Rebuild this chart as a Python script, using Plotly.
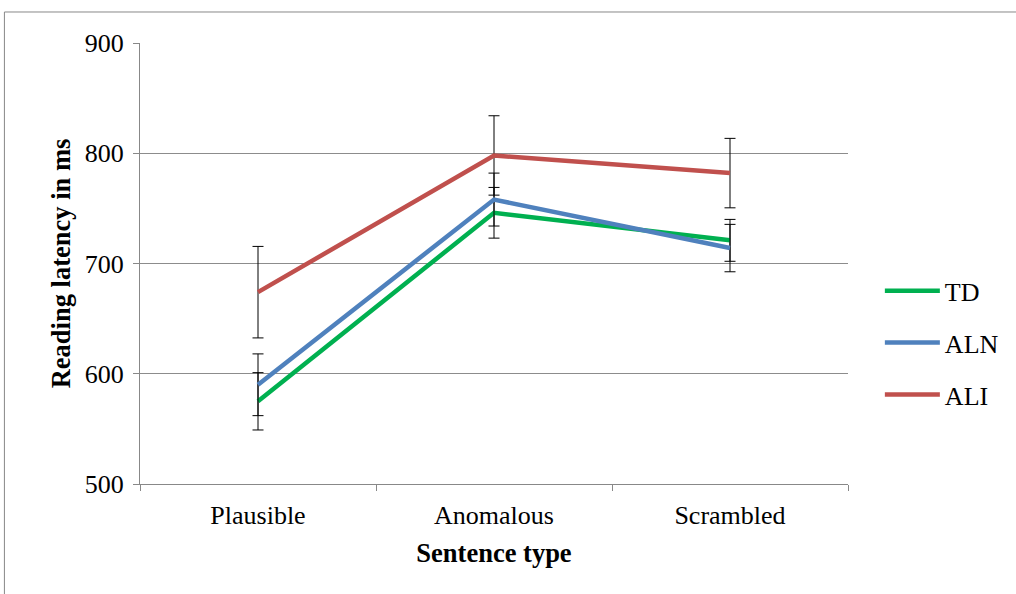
import plotly.graph_objects as go

categories = ["Plausible", "Anomalous", "Scrambled"]
series_names = ["TD", "ALN", "ALI"]
td_values = [575, 746, 721]
td_errors = [26, 23, 19]
aln_values = [590, 758, 714]
aln_errors = [28, 24, 21.5]
ali_values = [674, 798, 782]
ali_errors = [41.5, 36, 31.5]
y_ticks = [500, 600, 700, 800, 900]

colors = ["#00B050", "#4F81BD", "#C0504D"]
values = [td_values, aln_values, ali_values]
errors = [td_errors, aln_errors, ali_errors]

FONT = "Liberation Serif"

fig = go.Figure()
for name, vals, errs, col in zip(series_names, values, errors, colors):
    fig.add_trace(go.Scatter(
        x=categories, y=vals, name=name, mode="lines",
        line=dict(color=col, width=4.5),
        legendgroup=name,
        error_y=dict(type="data", array=errs, visible=True,
                     color="#000000", thickness=1, width=5.5),
    ))

fig.update_layout(
    width=1016, height=594,
    margin=dict(l=140, r=166, t=43, b=110),
    paper_bgcolor="white", plot_bgcolor="white",
    font=dict(family=FONT, size=26, color="black"),
    showlegend=True,
    legend=dict(x=1.045, y=0.32, xanchor="left", yanchor="middle",
                font=dict(family=FONT, size=26, color="black"),
                tracegroupgap=15, itemwidth=55, bgcolor="rgba(0,0,0,0)"),
    xaxis=dict(
        type="category", range=[-0.5, 2.5], tickson="boundaries", ticks="outside", ticklen=6,
        tickcolor="#888888", showline=True, linecolor="#888888", linewidth=1,
        showgrid=False, tickfont=dict(family=FONT, size=26), ticklabelstandoff=8,
        title=dict(text="<b>Sentence type</b>", font=dict(family=FONT, size=26.5), standoff=14),
    ),
    yaxis=dict(
        range=[500, 900], tickvals=y_ticks, ticks="outside", ticklen=6,
        tickcolor="#888888", showline=True, linecolor="#888888", linewidth=1,
        showgrid=True, gridcolor="#8c8c8c", gridwidth=1, zeroline=False,
        tickfont=dict(family=FONT, size=26), ticklabelstandoff=4,
        title=dict(text="<b>Reading latency in ms</b>", font=dict(family=FONT, size=26.5), standoff=6),
    ),
)

# outer chart frame (left and top edges visible)
fig.add_shape(type="line", xref="paper", yref="paper",
              x0=-0.1915, x1=-0.1915, y0=1.0703, y1=-0.3, line=dict(color="#888888", width=1))
fig.add_shape(type="line", xref="paper", yref="paper",
              x0=-0.1915, x1=1.3, y0=1.0703, y1=1.0703, line=dict(color="#888888", width=1))

fig.write_html("out.html")
